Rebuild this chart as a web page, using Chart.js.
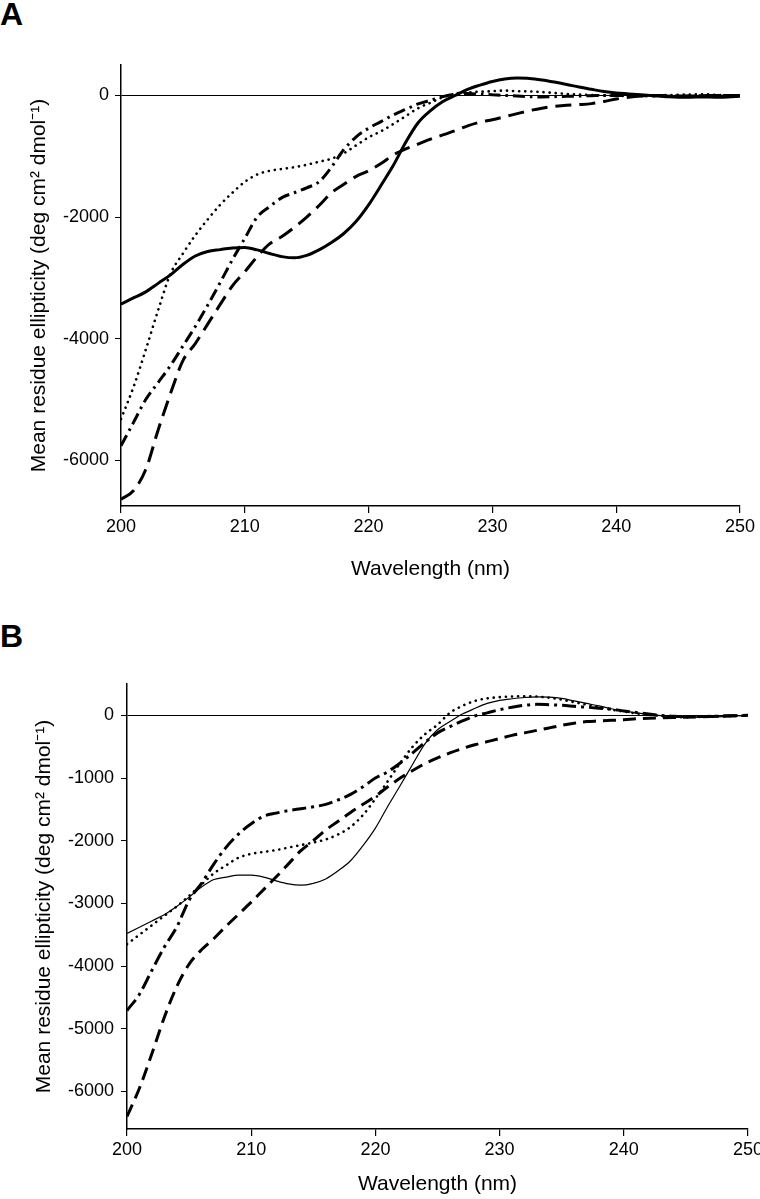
<!DOCTYPE html>
<html>
<head>
<meta charset="utf-8">
<script src="https://cdn.jsdelivr.net/npm/chart.js@4.4.1/dist/chart.umd.min.js"></script>
<style>
  body { margin: 0; background: #fff; }
  #wrap { position: relative; width: 760px; height: 1199px; overflow: hidden; }
  canvas { position: absolute; left: 0; }
  .lbl { position: absolute; left: 0; font: bold 32px 'Liberation Sans', Arial, sans-serif; line-height: 32px; color: #000; }
</style>
</head>
<body>
<div id="wrap">
  <div class="lbl" style="top:-2px">A</div>
  <canvas id="chartA" width="760" height="600" style="top:0"></canvas>
  <div class="lbl" style="top:620px">B</div>
  <canvas id="chartB" width="760" height="599" style="top:600px"></canvas>
</div>
<script>
// wavelength (nm)
const wavelengths = [200,201,202,203,204,205,206,207,208,209,210,211,212,213,214,215,216,217,218,219,220,
  221,222,223,224,225,226,227,228,229,230,231,232,233,234,235,236,237,238,239,240,
  241,242,243,244,245,246,247,248,249,250];
const xTicks = [200, 210, 220, 230, 240, 250];
const yTicksA = [0, -2000, -4000, -6000];
const yTicksB = [0, -1000, -2000, -3000, -4000, -5000, -6000];

// panel A
const solidA = [-3430,-3330,-3230,-3090,-2950,-2780,-2640,-2565,-2535,-2510,-2500,-2540,-2600,-2650,-2670,-2630,-2540,-2420,-2270,-2070,
  -1800,-1480,-1150,-770,-450,-250,-100,0,100,170,230,270,285,280,255,220,180,137,100,65,40,25,10,-5,-20,-30,-30,-25,-30,-25,-15];
const dottedA = [-5320,-4800,-4180,-3530,-2930,-2600,-2300,-2040,-1800,-1600,-1420,-1300,-1240,-1210,-1180,-1140,-1090,-1040,-950,-820,
  -690,-590,-470,-340,-210,-120,-30,30,50,60,70,80,70,65,55,40,25,15,5,0,-5,-10,-5,0,5,10,15,20,10,0,-5];
const dashDotA = [-5760,-5380,-5000,-4720,-4440,-4120,-3800,-3450,-3080,-2700,-2350,-2000,-1830,-1680,-1600,-1520,-1420,-1180,-890,-680,
  -540,-430,-320,-230,-140,-80,-20,20,30,20,10,0,-10,-20,-25,-20,-15,-10,-5,0,0,0,-5,-10,-10,-15,-10,-5,0,0,0];
const dashedA = [-6640,-6500,-6150,-5500,-4900,-4360,-4080,-3760,-3440,-3130,-2900,-2650,-2440,-2320,-2170,-2000,-1810,-1600,-1460,-1330,
  -1240,-1120,-980,-880,-800,-720,-650,-580,-500,-440,-400,-350,-300,-250,-210,-180,-160,-150,-135,-100,-60,-30,-10,0,-5,-10,-10,-5,0,0,0];

// panel B
const solidB = [-3480,-3380,-3280,-3180,-3050,-2900,-2740,-2620,-2580,-2550,-2550,-2580,-2640,-2690,-2710,-2680,-2610,-2480,-2320,-2080,
  -1800,-1450,-1120,-780,-450,-230,-100,20,110,190,240,265,285,295,290,270,230,190,150,105,70,40,15,-5,-20,-30,-30,-25,-20,-10,-5];
const dottedB = [-3650,-3500,-3350,-3200,-3050,-2880,-2700,-2520,-2390,-2270,-2210,-2180,-2150,-2110,-2070,-2030,-1980,-1900,-1780,-1590,
  -1330,-1050,-760,-500,-300,-150,40,150,230,270,290,300,305,300,280,250,210,170,130,90,60,30,10,-10,-25,-30,-25,-20,-15,-10,-5];
const dashDotB = [-4710,-4450,-4070,-3700,-3380,-2950,-2680,-2370,-2100,-1890,-1730,-1610,-1560,-1520,-1490,-1460,-1420,-1350,-1260,-1140,
  -1000,-900,-760,-600,-430,-280,-180,-90,-10,40,90,130,160,175,170,160,145,130,115,100,70,45,20,0,-15,-20,-20,-15,-10,-5,0];
const dashedB = [-6400,-5950,-5400,-4820,-4330,-3970,-3740,-3560,-3360,-3170,-2980,-2780,-2580,-2370,-2160,-2000,-1830,-1690,-1550,-1420,
  -1290,-1140,-1000,-880,-770,-680,-600,-530,-470,-420,-370,-320,-280,-240,-200,-160,-125,-100,-90,-80,-70,-55,-45,-40,-35,-30,-25,-20,-10,-5,0];

const FONT = "'Liberation Sans', Arial, sans-serif";
Chart.defaults.font.family = FONT;
Chart.defaults.color = '#000';

function pts(vals) {
  return wavelengths.map((w, i) => ({ x: w, y: vals[i] }));
}

function line(vals, width, dash, cap) {
  return {
    data: pts(vals),
    borderColor: '#000',
    borderWidth: width,
    borderDash: dash,
    borderCapStyle: cap || 'butt',
    pointRadius: 0,
    fill: false,
    cubicInterpolationMode: 'monotone'
  };
}

function makeChart(id, datasets, p) {
  const ytitle = 'Mean residue ellipticity (deg cm\u00B2 dmol\u207B\u00B9)';
  new Chart(document.getElementById(id), {
    type: 'line',
    data: { datasets: datasets },
    options: {
      responsive: false,
      animation: false,
      layout: { padding: { left: 0, top: p.top, right: p.right, bottom: 0 } },
      plugins: { legend: { display: false }, tooltip: { enabled: false } },
      scales: {
        x: {
          type: 'linear',
          min: 200, max: 250,
          afterBuildTicks: s => { s.ticks = xTicks.map(v => ({ value: v })); },
          afterFit: s => { s.height = p.xh; s.paddingLeft = 0; s.paddingRight = 0; },
          ticks: { font: { size: 18 }, padding: 3, maxRotation: 0, callback: v => String(v) },
          grid: { drawOnChartArea: false, tickLength: 7, tickColor: '#000', lineWidth: 1.2 },
          border: { color: '#000', width: 1.5 },
          title: { display: true, text: 'Wavelength (nm)', font: { size: 21 }, padding: { top: 0, bottom: p.xtb } }
        },
        y: {
          min: p.ymin, max: 500,
          afterBuildTicks: s => { s.ticks = p.yticks.map(v => ({ value: v })); },
          afterFit: s => { s.width = p.yw; s.paddingTop = 0; s.paddingBottom = 0; },
          ticks: { font: { size: 18 }, padding: p.ypad, callback: v => String(v) },
          grid: {
            color: c => (c.tick && c.tick.value === 0) ? '#000' : 'rgba(0,0,0,0)',
            lineWidth: 1,
            tickLength: 6,
            tickColor: '#000'
          },
          border: { color: '#000', width: 1.5 },
          title: { display: true, text: ytitle, font: { size: 21 }, padding: { top: p.ytt, bottom: 0 } }
        }
      }
    }
  });
}

makeChart('chartA', [
  line(solidA, 3, []),
  line(dottedA, 2.6, [0.1, 6], 'round'),
  line(dashDotA, 3, [12, 5, 2.5, 5]),
  line(dashedA, 3, [16, 8])
], { top: 65, right: 20, xh: 94, xtb: 18, ymin: -6750, yticks: yTicksA, yw: 121, ypad: 6, ytt: 27 });

makeChart('chartB', [
  line(solidB, 1.2, []),
  line(dottedB, 2.6, [0.1, 6], 'round'),
  line(dashDotB, 3, [14, 5, 3, 5]),
  line(dashedB, 3, [13, 7])
], { top: 84, right: 12, xh: 70, xtb: 2, ymin: -6600, yticks: yTicksB, yw: 127, ypad: 7, ytt: 32 });
</script>
</body>
</html>
